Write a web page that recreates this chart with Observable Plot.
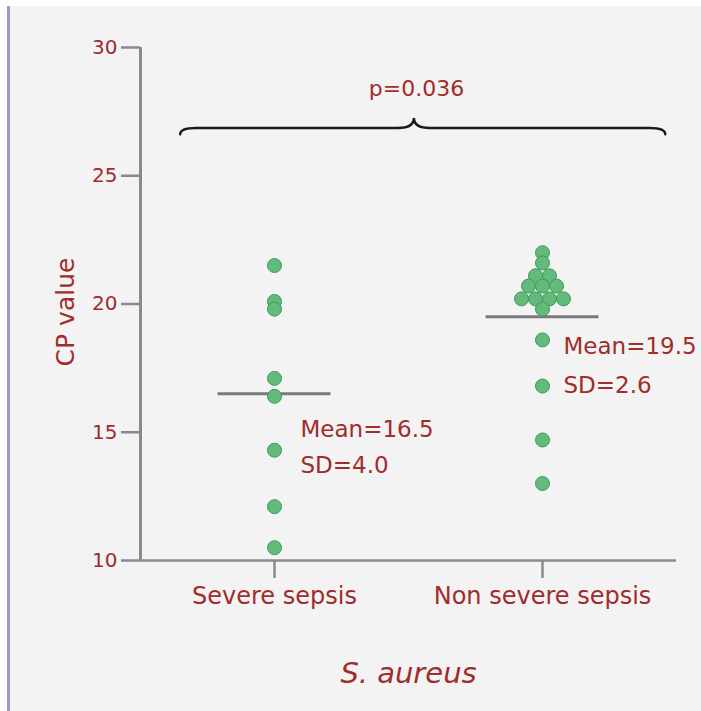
<!DOCTYPE html>
<html>
<head>
<meta charset="utf-8">
<script src="https://cdn.jsdelivr.net/npm/d3@7"></script>
<script src="https://cdn.jsdelivr.net/npm/@observablehq/plot@0.6"></script>
<style>
  html, body { margin: 0; padding: 0; background: #ffffff; }
  #frame { position: relative; width: 701px; height: 711px; overflow: hidden; }
  #panel { position: absolute; left: 7px; top: 6px; right: 0; bottom: 0;
           background: #f3f3f3; border-left: 3px solid #979dc8; }
  #chart { position: absolute; left: 0; top: 0; }
  #chart svg { background: transparent; }
  #chart [aria-label^="x-axis"] text,
  #chart [aria-label^="y-axis"] text { fill: #a02c2c; }
  #chart [aria-label^="x-axis"] text { font-size: 24px; }
  #chart [aria-label^="y-axis"] text { font-size: 20px; }
  #chart [aria-label^="x-axis"] line, #chart [aria-label^="x-axis"] path,
  #chart [aria-label^="y-axis"] line, #chart [aria-label^="y-axis"] path {
    stroke: #8a8a8a; stroke-width: 2.5px;
  }
  #chart [aria-label^="x-axis"] .domain, #chart [aria-label^="y-axis"] .domain { display: none; }
</style>
</head>
<body>
<div id="frame"><div id="panel"></div><div id="chart"></div></div>
<script>
// CP values per patient group
const groups = ["Severe sepsis", "Non severe sepsis"];
const severeValues = [21.5, 20.1, 19.8, 17.1, 16.4, 14.3, 12.1, 10.5];
const nonSevereValues = [22.0, 21.6, 21.1, 21.1, 20.7, 20.7, 20.7,
                         20.2, 20.2, 20.2, 20.2, 19.8, 18.6, 16.8, 14.7, 13.0];
const means = [16.5, 19.5];
const sds = [4.0, 2.6];
const yTicks = [10, 15, 20, 25, 30];
const pLabel = "p=0.036";
const xTitle = "S. aureus";
const yTitle = "CP value";

const RED = "#a02c2c";
const FONT = "'DejaVu Sans', Verdana, sans-serif";

const W = 701, H = 711;
const M = {top: 47, right: 25, bottom: 151, left: 140};
const xDomain = [-0.5, 1.5];
const pxPerUnit = (W - M.left - M.right) / (xDomain[1] - xDomain[0]);
const dotRadius = 7;
const dotStep = 14 / pxPerUnit;      // side-by-side spacing of equal values
const meanHalf = 56.5 / pxPerUnit;   // half length of each mean bar

// Equal values within a group sit side by side, centred on the group
const points = [];
[severeValues, nonSevereValues].forEach((vals, g) => {
  const counts = d3.rollup(vals, v => v.length, v => v);
  const seen = new Map();
  for (const v of vals) {
    const n = counts.get(v);
    const i = seen.get(v) ?? 0;
    seen.set(v, i + 1);
    points.push({group: g, value: v, slot: i - (n - 1) / 2});
  }
});

const summary = groups.map((name, i) => ({i, mean: means[i], sd: sds[i]}));
const labelOffsets = [{dx: 26, dy: 18, lh: 1.55}, {dx: 21, dy: 10, lh: 1.68}];

const plot = Plot.plot({
  width: W, height: H,
  marginTop: M.top, marginRight: M.right, marginBottom: M.bottom, marginLeft: M.left,
  style: {background: "transparent", fontFamily: FONT, overflow: "visible"},
  x: {domain: xDomain, ticks: [0, 1], tickFormat: i => groups[i], tickSize: 18, tickPadding: 8, label: null},
  y: {domain: [10, 30], ticks: yTicks, tickSize: 19, tickPadding: 4, label: null},
  marks: [
    // axis lines
    Plot.ruleX([xDomain[0]], {y1: 10, y2: 30, stroke: "#8a8a8a", strokeWidth: 3}),
    Plot.ruleY([10], {x1: xDomain[0], x2: xDomain[1], stroke: "#8a8a8a", strokeWidth: 2.5}),
    // group means
    Plot.ruleY(summary, {y: "mean", x1: d => d.i - meanHalf, x2: d => d.i + meanHalf,
                         stroke: "#7a7a7a", strokeWidth: 3}),
    // individual patients
    Plot.dot(points, {x: d => d.group + d.slot * dotStep, y: "value", r: dotRadius,
                      fill: "#62ba7b", stroke: "#3f9a5c", strokeWidth: 1}),
    // mean / SD annotations
    ...summary.map((s, k) => Plot.text([s], {
      x: "i", y: "mean",
      text: d => `Mean=${d.mean.toFixed(1)}\nSD=${d.sd.toFixed(1)}`,
      textAnchor: "start", lineAnchor: "top", lineHeight: labelOffsets[k].lh,
      dx: labelOffsets[k].dx, dy: labelOffsets[k].dy,
      fontSize: 23, fill: RED, fontFamily: FONT
    })),
    // significance label
    Plot.text([pLabel], {x: 0.53, y: 28.4, text: d => d, fontSize: 22, fill: RED, fontFamily: FONT}),
    // axis titles
    Plot.text([xTitle], {frameAnchor: "bottom", dy: 122, lineAnchor: "bottom", text: d => d,
                         fontSize: 29, fontStyle: "italic", fill: RED, fontFamily: FONT}),
    Plot.text([yTitle], {frameAnchor: "left", rotate: -90, dx: -67, dy: 8, textAnchor: "middle",
                         lineAnchor: "bottom", text: d => d, fontSize: 25, fill: RED, fontFamily: FONT})
  ]
});

// Curly brace spanning both groups under the p-value
{
  const sx = plot.scale("x"), sy = plot.scale("y");
  const X = d3.scaleLinear(sx.domain, sx.range);
  const Y = d3.scaleLinear(sy.domain, sy.range);
  const L = X(-0.35), R = X(1.46), T = X(0.522);
  const yFlat = Y(26.84), yTip = Y(27.23), yEnd = Y(26.6);
  const q = 16;
  const d = `M${L},${yEnd} Q${L},${yFlat} ${L + q},${yFlat} L${T - q},${yFlat} ` +
            `Q${T},${yFlat} ${T},${yTip} Q${T},${yFlat} ${T + q},${yFlat} ` +
            `L${R - q},${yFlat} Q${R},${yFlat} ${R},${yEnd}`;
  d3.select(plot).append("path")
    .attr("d", d).attr("fill", "none").attr("stroke", "#1a1a1a")
    .attr("stroke-width", 2.5).attr("stroke-linecap", "round");
}

document.getElementById("chart").appendChild(plot);
</script>
</body>
</html>
